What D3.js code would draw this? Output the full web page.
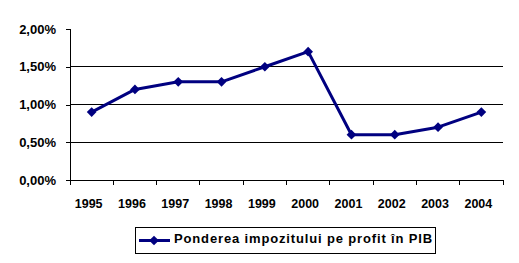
<!DOCTYPE html>
<html>
<head>
<meta charset="utf-8">
<script src="https://cdn.jsdelivr.net/npm/d3@7"></script>
<style>
  body { margin: 0; background: #fff; }
  text { font-family: Arial, "Liberation Sans", sans-serif; font-weight: bold; }
</style>
</head>
<body>
<svg id="chart"></svg>
<script>
const years = ["1995", "1996", "1997", "1998", "1999", "2000", "2001", "2002", "2003", "2004"];
const values = [0.9, 1.2, 1.3, 1.3, 1.5, 1.7, 0.6, 0.6, 0.7, 0.9];
const yTicks = [0, 0.5, 1, 1.5, 2];
const seriesName = "Ponderea impozitului pe profit în PIB";

const w = 519, h = 263;
const padL = 70, padR = 503, padT = 29, padB = 180;
const navy = "#000080";

const svg = d3.select("#chart").attr("width", w).attr("height", h);

const x = d3.scaleBand().domain(years).range([padL, padR]);
const y = d3.scaleLinear().domain([0, 2]).range([padB, padT]);

const fmt = v => v.toFixed(2).replace(".", ",") + "%";

// gridlines (not at top)
svg.append("g")
  .selectAll("line")
  .data(yTicks.filter(d => d > 0 && d < 2))
  .join("line")
  .attr("x1", padL).attr("x2", padR)
  .attr("y1", d => y(d)).attr("y2", d => y(d))
  .attr("stroke", "#000").attr("stroke-width", 1).attr("shape-rendering", "crispEdges");

// y axis
const yAxis = d3.axisLeft(y).tickValues(yTicks).tickFormat(fmt).tickSize(4).tickPadding(10);
const gy = svg.append("g").attr("transform", `translate(${padL},0)`).call(yAxis);
gy.select(".domain").attr("stroke", "#000").attr("shape-rendering", "crispEdges");
gy.selectAll(".tick line").attr("stroke", "#000").attr("shape-rendering", "crispEdges");
gy.selectAll("text").attr("font-size", 13).attr("fill", "#000");

// x axis with ticks at category boundaries
const gx = svg.append("g").attr("transform", `translate(0,${padB})`);
gx.append("line").attr("x1", padL).attr("x2", padR).attr("y1", 0).attr("y2", 0)
  .attr("stroke", "#000").attr("shape-rendering", "crispEdges");
const bounds = years.map(d => x(d)).concat([padR]);
gx.selectAll(".tk").data(bounds).join("line").attr("class", "tk")
  .attr("x1", d => d).attr("x2", d => d).attr("y1", 0).attr("y2", 5)
  .attr("stroke", "#000").attr("shape-rendering", "crispEdges");
gx.selectAll(".lbl").data(years).join("text").attr("class", "lbl")
  .attr("x", d => x(d) + x.bandwidth() / 2 - 3).attr("y", 28)
  .attr("text-anchor", "middle").attr("font-size", 12.5).attr("fill", "#000")
  .text(d => d);

// line
const line = d3.line().x((d, i) => x(years[i]) + x.bandwidth() / 2).y(d => y(d));
svg.append("path").datum(values).attr("d", line)
  .attr("fill", "none").attr("stroke", navy).attr("stroke-width", 3).attr("stroke-linejoin", "round");

const diamond = d3.symbol().type(d3.symbolDiamond2).size(60);
svg.selectAll(".pt").data(values).join("path").attr("class", "pt")
  .attr("d", diamond)
  .attr("transform", (d, i) => `translate(${x(years[i]) + x.bandwidth() / 2},${y(d)})`)
  .attr("fill", navy);

// legend
const lg = svg.append("g");
lg.append("rect").attr("x", 135.5).attr("y", 227.5).attr("width", 300).attr("height", 26)
  .attr("fill", "#fff").attr("stroke", "#000");
lg.append("line").attr("x1", 139).attr("x2", 170).attr("y1", 240.5).attr("y2", 240.5)
  .attr("stroke", navy).attr("stroke-width", 3);
lg.append("path").attr("d", diamond).attr("transform", "translate(154,240.5)").attr("fill", navy);
lg.append("text").attr("x", 174).attr("y", 243).attr("font-size", 13).attr("letter-spacing", 0.85)
  .attr("fill", "#000").text(seriesName);
</script>
</body>
</html>
